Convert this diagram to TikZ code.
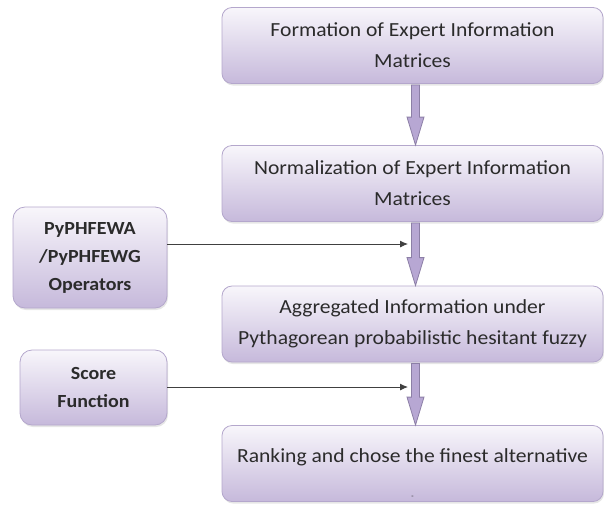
\documentclass[tikz,border=0pt]{standalone}
\usepackage{fontspec}
\setmainfont[FakeStretch=1.08]{Carlito}
\usetikzlibrary{calc,shadows,arrows.meta}
\definecolor{boxtop}{HTML}{F8F6FB}
\definecolor{boxbot}{HTML}{C6B9DB}
\definecolor{boxline}{HTML}{B4A7CC}
\definecolor{arrfill}{HTML}{B7A7D3}
\definecolor{arrline}{HTML}{8C7FA6}
\definecolor{txt}{HTML}{2B2B2B}
\newcommand{\bigarrow}[2]{%
	\draw[blockarr] ($(#1.south)+(-1,1)$) -- ($(#2.north)+(-1,-28)$) -- ($(#2.north)+(-5.5,-28)$)
		-- ($(#2.north)+(3,0)$) -- ($(#2.north)+(11.5,-28)$) -- ($(#2.north)+(7,-28)$)
		-- ($(#1.south)+(7,1)$) -- cycle;}

\begin{document}
\begin{tikzpicture}[x=1pt,y=-1pt,
		stepbox/.style={draw=boxline, line width=0.8pt, rounded corners=10pt, top color=boxtop, bottom color=boxbot,
			drop shadow={opacity=0.2,shadow xshift=1pt,shadow yshift=-2pt}, text=txt, align=center, inner sep=0pt},
		mainbox/.style={stepbox, minimum width=381pt, minimum height=76pt, font=\fontsize{20}{31}\selectfont},
		sidebox/.style={stepbox, rounded corners=12pt, font=\bfseries\fontsize{18.5}{28}\selectfont},
		blockarr/.style={draw=arrline, fill=arrfill, line width=0.8pt},
		feed/.style={draw=black!75, line width=0.9pt, -{Latex[length=8pt,width=7pt]}}]
			\useasboundingbox (0,0) rectangle (604,504);
			\node[mainbox] (form) at (412.5,45.5) {Formation of Expert Information\\Matrices};
			\node[mainbox] (norm) at (412.5,183.5) {Normalization of Expert Information\\Matrices};
			\node[mainbox] (aggr) at (412.5,324) {Aggregated Information under\\Pythagorean probabilistic hesitant fuzzy};
			\node[mainbox] (rank) at (412.5,463.5) {\rule{0pt}{34pt}Ranking and chose the finest alternative\\[5pt]{\scriptsize -}};
			\node[sidebox, minimum width=154pt, minimum height=101pt] (ops) at (90,257.5) {PyPHFEWA\\/PyPHFEWG\\Operators};
			\node[sidebox, minimum width=147pt, minimum height=75pt] (score) at (93.5,387.5) {Score\\Function};
			\bigarrow{form}{norm}
			\bigarrow{norm}{aggr}
			\bigarrow{aggr}{rank}
			\coordinate (in1) at (408,244);
			\coordinate (in2) at (408,387);
			\draw[feed] (ops.east |- in1) -- (in1);
			\draw[feed] (score.east |- in2) -- (in2);
\end{tikzpicture}
\end{document}
